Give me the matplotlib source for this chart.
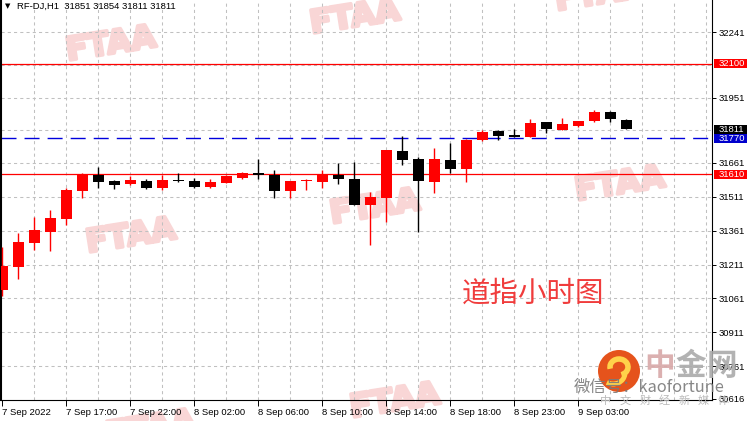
import matplotlib
matplotlib.use("Agg")
import matplotlib.pyplot as plt
import matplotlib.patheffects as pe
from matplotlib import patches
import numpy as np

plt.rcParams['font.family'] = ['Liberation Sans', 'DejaVu Sans']
cjk = ['Noto Sans CJK SC', 'DejaVu Sans']

# hourly candles, RF-DJ H1
opens = [31098, 31201, 31308, 31356, 31413, 31538, 31608, 31581, 31569, 31581,
         31551, 31583, 31581, 31556, 31573, 31596, 31618, 31608, 31538, 31580,
         31578, 31608, 31590, 31475, 31507, 31714, 31678, 31576, 31674, 31634,
         31763, 31802, 31785, 31777, 31842, 31807, 31825, 31847, 31887, 31851]
highs = [31290, 31349, 31423, 31452, 31549, 31615, 31644, 31585, 31603, 31588,
         31608, 31618, 31593, 31590, 31608, 31622, 31678, 31630, 31583, 31588,
         31630, 31659, 31666, 31534, 31718, 31780, 31689, 31726, 31751, 31767,
         31807, 31807, 31811, 31856, 31842, 31860, 31847, 31895, 31891, 31854]
lows = [31073, 31147, 31275, 31271, 31386, 31507, 31551, 31545, 31562, 31545,
        31541, 31578, 31551, 31551, 31571, 31590, 31590, 31507, 31507, 31541,
        31551, 31568, 31475, 31297, 31401, 31652, 31356, 31529, 31618, 31578,
        31760, 31763, 31776, 31777, 31792, 31806, 31820, 31842, 31842, 31811]
closes = [31206, 31311, 31364, 31417, 31541, 31612, 31578, 31565, 31585, 31551,
          31585, 31581, 31556, 31576, 31603, 31618, 31606, 31538, 31581, 31582,
          31611, 31590, 31475, 31509, 31718, 31674, 31581, 31678, 31634, 31763,
          31798, 31780, 31778, 31838, 31810, 31833, 31847, 31887, 31856, 31811]

tick_idx = [0, 4, 8, 12, 16, 20, 24, 28, 32, 36]
tick_labels = ['7 Sep 2022', '7 Sep 17:00', '7 Sep 22:00', '8 Sep 02:00', '8 Sep 06:00',
               '8 Sep 10:00', '8 Sep 14:00', '8 Sep 18:00', '8 Sep 23:00', '9 Sep 03:00']
y_ticks = [32241, 31951, 31661, 31511, 31361, 31211, 31061, 30911, 30761, 30616]
y_grid = [32241, 32096, 31951, 31806, 31661, 31511, 31361, 31211, 31061, 30911, 30761]

# horizontal levels and price tags
red_levels = [32100, 31610]
blue_level = 31770
tags = [32100, 31811, 31770, 31610]
tag_colors = ['#ff0000', '#000000', '#0000cc', '#ff0000']

W, H = 752, 421
fig = plt.figure(figsize=(W / 100, H / 100), dpi=100)
ax = fig.add_axes([1 / W, 21 / H, 711 / W, 400 / H])
ax.set_xlim(-0.08, 44.36)
ax.set_ylim(30611, 32383)

# watermarks
for px, py in [(111, 45), (355, 18), (600, -5), (131, 237), (375, 208), (620, 185),
               (151, 429), (395, 402)]:
    ax.text(px / W, 1 - py / H, 'FTAA', transform=fig.transFigure, ha='center', va='center',
            fontsize=23, fontweight='bold', family='DejaVu Sans', color='#f9d6d6',
            rotation=9, zorder=0.5, clip_on=False,
            path_effects=[pe.withStroke(linewidth=2.5, foreground='#f9d6d6')])

# grid
for v in y_grid:
    ax.axhline(v, color='#c0c0c0', lw=0.75, ls=(0, (3, 3)), zorder=1)
for i in range(2, 45, 2):
    ax.axvline(i, color='#c0c0c0', lw=0.75, ls=(0, (3, 3)), zorder=1)

for v in red_levels:
    ax.axhline(v, color='#ff0000', lw=0.9, zorder=2)
ax.axhline(blue_level, color='#0000dd', lw=1.0, ls=(0, (10.8, 5.8)), zorder=2)

# candles
x = np.arange(len(opens))
o = np.array(opens)
c = np.array(closes)
colors = np.where(c >= o, '#ff0000', '#000000')
ax.vlines(x, lows, highs, colors=colors, lw=1.0, zorder=3)
ax.bar(x, np.maximum(np.abs(c - o), 4), bottom=np.minimum(o, c), width=0.69,
       color=colors, linewidth=0, zorder=4)

# axes styling
ax.spines['top'].set_visible(False)
for s in ['left', 'right', 'bottom']:
    ax.spines[s].set_color('black')
ax.spines['left'].set_linewidth(1.5)
ax.spines['right'].set_linewidth(0.8)
ax.spines['bottom'].set_linewidth(0.8)

ax.yaxis.tick_right()
ax.set_yticks(y_ticks)
ax.set_yticklabels([str(v) for v in y_ticks])
ax.tick_params(axis='y', length=3, width=0.7, pad=1.8, labelsize=6.8, direction='out')
ax.set_xticks(tick_idx)
ax.set_xticklabels(tick_labels)
ax.tick_params(axis='x', length=4, width=0.7, pad=1.5, labelsize=6.8, direction='out')
for lbl in ax.get_xticklabels():
    lbl.set_ha('left')

tr = ax.get_yaxis_transform()
for v, col in zip(tags, tag_colors):
    ax.add_patch(patches.Rectangle((1.0028, v - 20), 0.0464, 40, transform=tr,
                                   facecolor=col, edgecolor='none', clip_on=False, zorder=10))
    ax.text(1.0095, v, str(v), transform=tr, ha='left', va='center', color='white',
            fontsize=6.8, clip_on=False, zorder=11)

# title
fig.text(5 / W, 1 - 6 / H, '▼', fontsize=5, va='center', ha='left', family='DejaVu Sans')
fig.text(17 / W, 1 - 6 / H, 'RF-DJ,H1  31851 31854 31811 31811', fontsize=6.8,
         va='center', ha='left')

# chart caption
fig.text(533 / W, 1 - 294 / H, '道指小时图', fontsize=20.5, color='#f03c3c',
         ha='center', va='center', family=cjk)

# logo
fig.text(649 / W, 1 - 387 / H, '微信号：kaofortune', fontsize=11.8, color='#7a7a7a',
         ha='center', va='center', family=cjk, alpha=0.9)
fig.add_artist(patches.Ellipse((619 / W, 1 - 371 / H), 42 / W, 42 / H,
                               transform=fig.transFigure, facecolor='#e5531c', edgecolor='none'))
fig.add_artist(patches.Arc((619 / W, 1 - 367 / H), 18 / W, 16 / H, theta1=-80, theta2=200,
                           transform=fig.transFigure, color='#ffd24a', lw=4))
fig.add_artist(patches.Arc((613 / W, 1 - 373 / H), 24 / W, 22 / H, theta1=250, theta2=350,
                           transform=fig.transFigure, color='#ffd24a', lw=3.5))
for ch, px, col in [('中', 660, '#d8a8a8'), ('金', 691, '#aaaaaa'), ('网', 722, '#aaaaaa')]:
    fig.text(px / W, 1 - 366 / H, ch, fontsize=22, color=col, ha='center', va='center',
             family=cjk, fontweight='bold', alpha=0.9)
for k, ch in enumerate('中文财经新媒体'):
    fig.text((606 + 19.5 * k) / W, 1 - 401 / H, ch, fontsize=8, color='#bbbbbb',
             ha='center', va='center', family=cjk)

fig.savefig('out.png', dpi=100)
